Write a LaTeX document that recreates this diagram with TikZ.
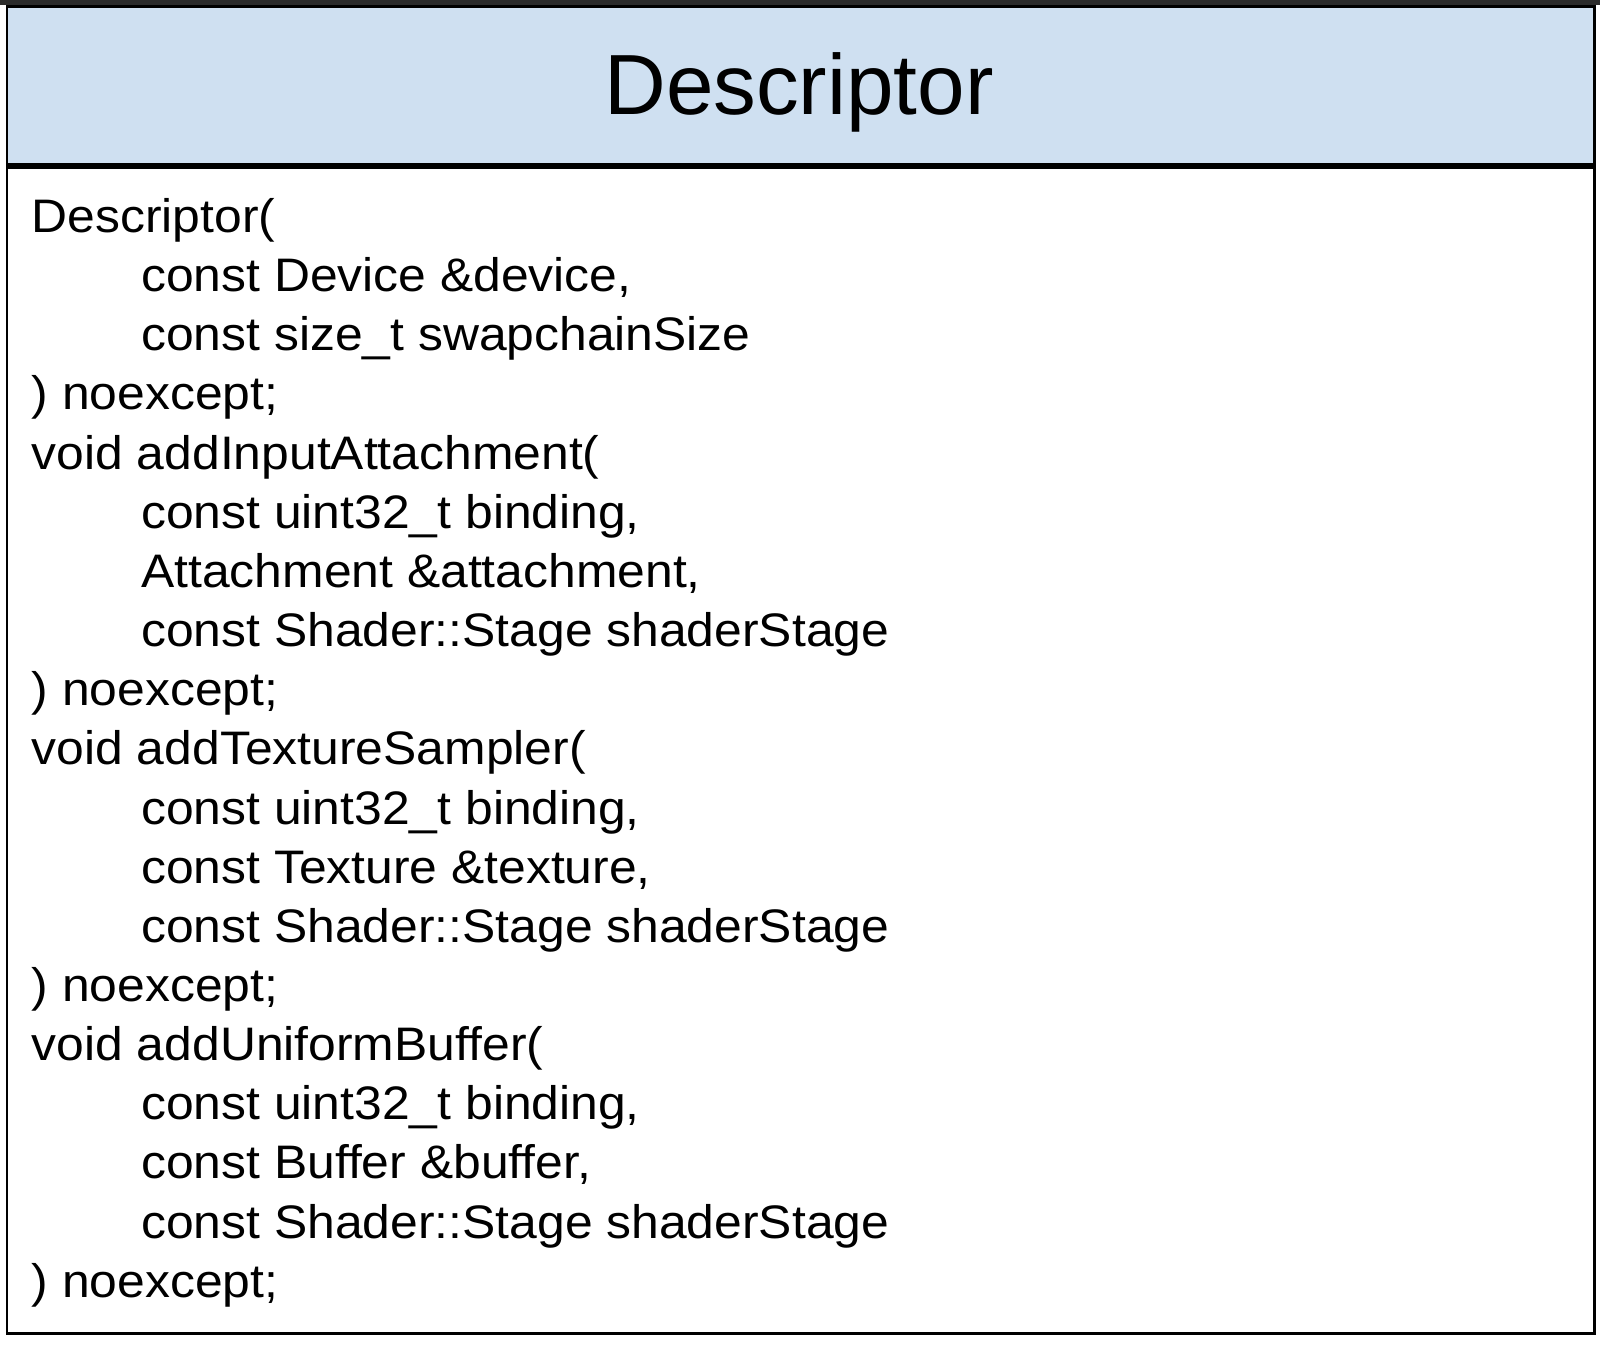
\documentclass[tikz,border=0pt]{standalone}
\usepackage{fontspec}
\setmainfont{Liberation Sans}
\newfontfamily\memberfont[FakeStretch=1.06]{Liberation Sans}
\usetikzlibrary{positioning}
\definecolor{headblue}{HTML}{CFE0F1}
\definecolor{topbar}{HTML}{2B2B2B}
\tikzset{
  classhead/.style={draw, line width=0.85pt, fill=headblue, minimum width=15.87cm, minimum height=1.57cm, inner sep=0pt},
  classbody/.style={draw, line width=0.85pt, fill=white, minimum width=15.87cm, minimum height=11.66cm, inner sep=0pt},
  member/.style={anchor=base west, inner sep=0pt, font=\memberfont\fontsize{13.37pt}{16pt}\selectfont}
}
\begin{document}
\begin{tikzpicture}[x=0.01cm,y=-0.01cm]
		\useasboundingbox (0,0) rectangle (1600,1346);
		\fill[topbar] (0,0) rectangle (1600,5.5);
		\node (head) [classhead, anchor=north west] at (5.5,5.5) {};
		\node (body) [classbody, anchor=north] at (head.south) {};
		\node (title) [anchor=base, inner sep=0pt, font=\fontsize{24.3pt}{28pt}\selectfont] at (799,115) {Descriptor};
		% constructor
		\node (m1) [member] at (31,232.7) {Descriptor(};
		\node (m2) [member] at (140.5,291.8) {const Device \&device,};
		\node (m3) [member] at (140.5,350.9) {const size\_t swapchainSize};
		\node (m4) [member] at (31,410.0) {) noexcept;};
		% input attachment
		\node (m5) [member] at (31,469.2) {void addInputAttachment(};
		\node (m6) [member] at (140.5,528.3) {const uint32\_t binding,};
		\node (m7) [member] at (140.5,587.4) {Attachment \&attachment,};
		\node (m8) [member] at (140.5,646.6) {const Shader::Stage shaderStage};
		\node (m9) [member] at (31,705.7) {) noexcept;};
		% texture sampler
		\node (m10) [member] at (31,764.9) {void addTextureSampler(};
		\node (m11) [member] at (140.5,824.0) {const uint32\_t binding,};
		\node (m12) [member] at (140.5,883.1) {const Texture \&texture,};
		\node (m13) [member] at (140.5,942.3) {const Shader::Stage shaderStage};
		\node (m14) [member] at (31,1001.4) {) noexcept;};
		% uniform buffer
		\node (m15) [member] at (31,1060.6) {void addUniformBuffer(};
		\node (m16) [member] at (140.5,1119.7) {const uint32\_t binding,};
		\node (m17) [member] at (140.5,1178.8) {const Buffer \&buffer,};
		\node (m18) [member] at (140.5,1238.0) {const Shader::Stage shaderStage};
		\node (m19) [member] at (31,1297.1) {) noexcept;};
	\end{tikzpicture}
\end{document}
